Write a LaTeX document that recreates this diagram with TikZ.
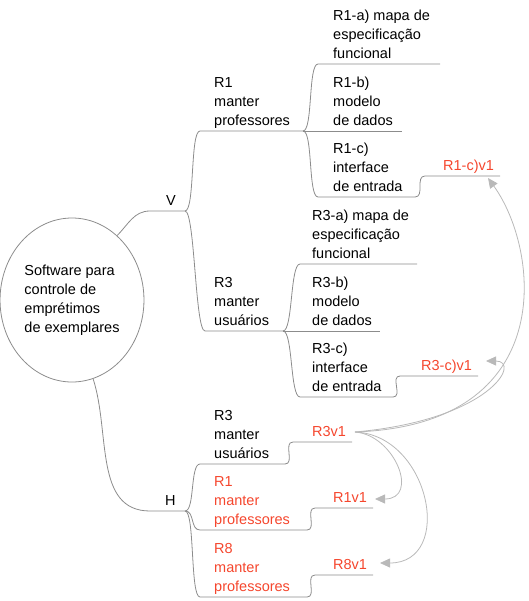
\documentclass[tikz,border=0pt]{standalone}
\usepackage{fontspec}
\setmainfont{Liberation Sans}
\usepackage{tikz}
\usetikzlibrary{arrows.meta,shapes.geometric}
\definecolor{req}{RGB}{245,70,45}

\begin{document}
\begin{tikzpicture}[x=1pt,y=1pt,
  line/.style={draw=gray!90,line width=0.8pt},
  br/.style={to path={.. controls +(10,0) and +(-10,0) .. (\tikztotarget) \tikztonodes}},
  lbl/.style={anchor=south west,inner sep=0pt,align=left,font=\fontsize{14.5}{19}\selectfont,execute at end node=\strut},
  vlbl/.style={lbl,text=req},
  link/.style={draw=gray!55,line width=0.8pt,-{Triangle[length=10pt,width=9pt]}}]
\useasboundingbox (0,0) rectangle (528,-601);
% root
\node[ellipse,draw=gray!90,line width=0.8pt,minimum width=129pt,minimum height=164pt,
  align=left,font=\fontsize{14.5}{19}\selectfont] (root) at (72,-300)
  {Software para\\controle de\\emprétimos\\de exemplares};
% V side
\coordinate (vs) at (150,-211); \coordinate (ve) at (185,-211);
\node[lbl] (v) at (166,-211) {V};
\coordinate (r1s) at (200,-131); \coordinate (r1e) at (303,-131);
\node[lbl] (r1) at (214,-131) {R1\\manter\\professores};
\coordinate (r1as) at (318,-64); \coordinate (r1ae) at (440,-64);
\node[lbl] (r1a) at (333,-64) {R1-a) mapa de\\especificação\\funcional};
\coordinate (r1be) at (402,-131);
\node[lbl] (r1b) at (333,-131) {R1-b)\\modelo\\de dados};
\coordinate (r1cs) at (318,-197); \coordinate (r1ce) at (415,-197);
\node[lbl] (r1c) at (333,-197) {R1-c)\\interface\\de entrada};
\coordinate (r1cvs) at (425,-176); \coordinate (r1cve) at (500,-176);
\node[vlbl] (r1cv) at (443,-176) {R1-c)v1};
\coordinate (r3s) at (205,-331); \coordinate (r3e) at (283,-331);
\node[lbl] (r3) at (214,-331) {R3\\manter\\usuários};
\coordinate (r3as) at (300,-264); \coordinate (r3ae) at (417,-264);
\node[lbl] (r3a) at (312,-264) {R3-a) mapa de\\especificação\\funcional};
\coordinate (r3be) at (380,-331);
\node[lbl] (r3b) at (312,-331) {R3-b)\\modelo\\de dados};
\coordinate (r3cs) at (300,-397); \coordinate (r3ce) at (393,-397);
\node[lbl] (r3c) at (312,-397) {R3-c)\\interface\\de entrada};
\coordinate (r3cvs) at (400,-376); \coordinate (r3cve) at (478,-376);
\node[vlbl] (r3cv) at (421,-376) {R3-c)v1};
% H side
\coordinate (hs) at (150,-511); \coordinate (he) at (185,-511);
\node[lbl] (h) at (165,-511) {H};
\coordinate (r3hs) at (200,-464); \coordinate (r3he) at (285,-464);
\node[lbl] (r3h) at (214,-464) {R3\\manter\\usuários};
\coordinate (r3vs) at (293,-442); \coordinate (r3ve) at (352,-442);
\node[vlbl] (r3v) at (312,-442) {R3v1};
\coordinate (r1hs) at (200,-530); \coordinate (r1he) at (307,-530);
\node[vlbl] (r1h) at (214,-530) {R1\\manter\\professores};
\coordinate (r1vs) at (315,-508); \coordinate (r1ve) at (373,-508);
\node[vlbl] (r1v) at (333,-508) {R1v1};
\coordinate (r8hs) at (200,-597); \coordinate (r8he) at (307,-597);
\node[vlbl] (r8h) at (214,-597) {R8\\manter\\professores};
\coordinate (r8vs) at (315,-575); \coordinate (r8ve) at (373,-575);
\node[vlbl] (r8v) at (333,-575) {R8v1};
% branches
\draw[line] (root.55) to[out=45,in=180] (vs) -- (ve);
\draw[line] (ve) to[br] (r1s) -- (r1e);
\draw[line] (ve) to[br] (r3s) -- (r3e);
\draw[line] (r1e) to[br] (r1as) -- (r1ae);
\draw[line] (r1e) -- (r1be);
\draw[line] (r1e) to[br] (r1cs) -- (r1ce);
\draw[line] (r1ce) to[br] (r1cvs) -- (r1cve);
\draw[line] (r3e) to[br] (r3as) -- (r3ae);
\draw[line] (r3e) -- (r3be);
\draw[line] (r3e) to[br] (r3cs) -- (r3ce);
\draw[line] (r3ce) to[br] (r3cvs) -- (r3cve);
\draw[line] (root.-75) to[out=-72,in=180] (hs) -- (he);
\draw[line] (he) to[br] (r3hs) -- (r3he);
\draw[line] (he) to[br] (r1hs) -- (r1he);
\draw[line] (he) to[br] (r8hs) -- (r8he);
\draw[line] (r3he) to[br] (r3vs) -- (r3ve);
\draw[line] (r1he) to[br] (r1vs) -- (r1ve);
\draw[line] (r8he) to[br] (r8vs) -- (r8ve);
% versions
\coordinate (r3vo) at (355,-432);
\coordinate (t1) at (488,-178); \coordinate (t2) at (486,-361);
\coordinate (t3) at (375,-499); \coordinate (t4) at (380,-563);
\draw[link] (r3vo) .. controls (560,-425) and (540,-250) .. (t1);
\draw[link] (r3vo) .. controls (490,-420) and (522,-361) .. (t2);
\draw[link] (r3vo) .. controls (395,-435) and (420,-499) .. (t3);
\draw[link] (r3vo) .. controls (430,-435) and (455,-563) .. (t4);
\end{tikzpicture}
\end{document}
